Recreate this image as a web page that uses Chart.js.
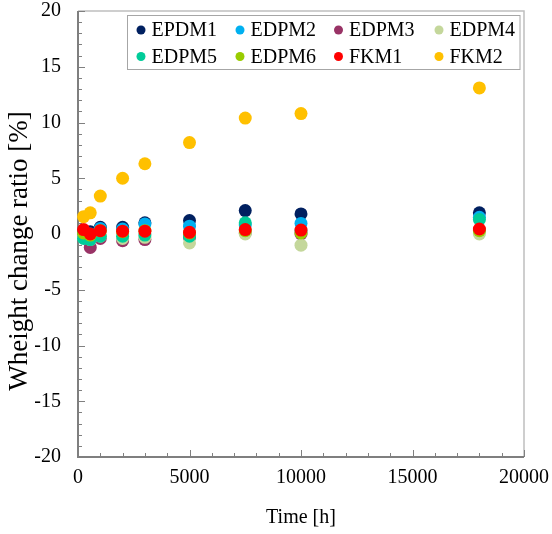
<!DOCTYPE html>
<html>
<head>
<meta charset="utf-8">
<script src="https://cdn.jsdelivr.net/npm/chart.js@4/dist/chart.umd.min.js"></script>
<style>
html,body{margin:0;padding:0;background:#fff;}
canvas{display:block;}
</style>
</head>
<body>
<canvas id="c" width="552" height="534"></canvas>
<script>
// ---- data ----
const times = [250, 550, 1000, 2000, 3000, 5000, 7500, 10000, 18000];
const seriesNames = ["EPDM1", "EDPM2", "EDPM3", "EDPM4", "EDPM5", "EDPM6", "FKM1", "FKM2"];
const epdm1 = [0.2, 0.2, 0.6, 0.6, 1.0, 1.2, 2.1, 1.8, 1.9];
const edpm2 = [0.1, 0.0, 0.5, 0.45, 0.9, 0.7, 0.8, 0.95, 1.5];
const edpm3 = [-0.2, -1.2, -0.4, -0.6, -0.5, -0.3, 0.1, 0.0, 0.3];
const edpm4 = [-0.3, -0.5, -0.2, -0.4, -0.3, -0.8, 0.0, -1.0, 0.0];
const edpm5 = [-0.4, -0.5, -0.2, -0.2, -0.1, -0.2, 1.0, 0.3, 1.3];
const edpm6 = [0.1, -0.1, 0.3, 0.2, 0.3, 0.1, 0.3, 0.1, 0.3];
const fkm1 = [0.4, 0.0, 0.3, 0.25, 0.25, 0.15, 0.4, 0.35, 0.45];
const fkm2 = [1.55, 1.9, 3.4, 5.0, 6.3, 8.2, 10.4, 10.8, 13.1];
const seriesValues = [epdm1, edpm2, edpm3, edpm4, edpm5, edpm6, fkm1, fkm2];
const seriesColors = ["#002060", "#00B0F0", "#993366", "#C4D79B", "#00CC99", "#99CC00", "#FF0000", "#FFC000"];
const xTickValues = [0, 5000, 10000, 15000, 20000];
const yTickValues = [-20, -15, -10, -5, 0, 5, 10, 15, 20];
const xTitle = "Time [h]";
const yTitle = "Wheight change ratio [%]";

const FONT = "'Liberation Serif', 'Times New Roman', serif";

const datasets = seriesNames.map((name, i) => ({
  label: name,
  data: times.map((t, k) => ({x: t, y: seriesValues[i][k]})),
  backgroundColor: seriesColors[i],
  borderWidth: 0,
  pointRadius: 6.5,
  pointHoverRadius: 6.5,
  order: seriesNames.length - i,
  clip: false
}));

const decor = {
  id: 'decor',
  beforeDatasetsDraw(chart) {
    const {ctx, chartArea: a, scales: {x, y}} = chart;
    ctx.save();
    // top & right border
    ctx.strokeStyle = '#bfbfbf';
    ctx.lineWidth = 1.5;
    ctx.beginPath();
    ctx.moveTo(a.left, a.top); ctx.lineTo(a.right, a.top); ctx.lineTo(a.right, a.bottom);
    ctx.stroke();
    // inward ticks
    ctx.strokeStyle = '#808080';
    ctx.lineWidth = 1;
    ctx.beginPath();
    for (let v = y.min; v <= y.max; v += 1) {
      const len = (v % 5 === 0) ? 7 : 4;
      const py = Math.round(y.getPixelForValue(v)) + 0.5;
      ctx.moveTo(a.left, py); ctx.lineTo(a.left + len, py);
    }
    for (let v = x.min; v <= x.max; v += 1000) {
      const len = (v % 5000 === 0) ? 7 : 4;
      const px = Math.round(x.getPixelForValue(v)) + 0.5;
      ctx.moveTo(px, a.bottom); ctx.lineTo(px, a.bottom - len);
    }
    ctx.stroke();
    // left & bottom axes
    ctx.strokeStyle = '#7f7f7f';
    ctx.lineWidth = 2;
    ctx.beginPath();
    ctx.moveTo(a.left, a.top); ctx.lineTo(a.left, a.bottom); ctx.lineTo(a.right, a.bottom);
    ctx.stroke();
    ctx.restore();
  },
  afterDraw(chart) {
    const {ctx} = chart;
    ctx.save();
    // y title
    ctx.fillStyle = '#000';
    ctx.font = "27px " + FONT;
    ctx.textAlign = 'center';
    ctx.textBaseline = 'middle';
    ctx.translate(20, 251);
    ctx.rotate(-Math.PI / 2);
    ctx.fillText(yTitle, 0, 0);
    ctx.restore();

    // legend
    ctx.save();
    ctx.fillStyle = '#fff';
    ctx.fillRect(127.5, 15.5, 392.5, 54);
    ctx.strokeStyle = '#a6a6a6';
    ctx.lineWidth = 1;
    ctx.strokeRect(127.5, 15.5, 392.5, 54);
    const colX = [141, 240, 338.5, 439];
    const rowY = [30, 56.5];
    ctx.font = "20px " + FONT;
    ctx.textAlign = 'left';
    ctx.textBaseline = 'middle';
    chart.data.datasets.forEach((ds, i) => {
      const cx = colX[i % 4], cy = rowY[Math.floor(i / 4)];
      ctx.fillStyle = ds.backgroundColor;
      ctx.beginPath();
      ctx.arc(cx, cy, 4.5, 0, Math.PI * 2);
      ctx.fill();
      ctx.fillStyle = '#000';
      ctx.fillText(ds.label, cx + 10.5, cy + 1);
    });
    ctx.restore();
  }
};

new Chart(document.getElementById('c'), {
  type: 'scatter',
  data: {datasets},
  plugins: [decor],
  options: {
    responsive: false,
    animation: false,
    devicePixelRatio: 1,
    layout: {padding: {top: 11, right: 28, left: 0, bottom: 0}},
    plugins: {legend: {display: false}, tooltip: {enabled: false}},
    scales: {
      x: {
        type: 'linear', min: 0, max: 20000,
        afterBuildTicks: s => { s.ticks = xTickValues.map(v => ({value: v})); },
        ticks: {color: '#000', font: {family: FONT, size: 20}, padding: 9, maxRotation: 0, autoSkip: false,
                callback: v => String(v)},
        grid: {display: false, drawTicks: false},
        border: {display: false},
        title: {display: true, text: xTitle, color: '#000', font: {family: FONT, size: 20}, padding: {top: 0, bottom: 4}},
        afterFit: s => { s.height = 77; s.paddingLeft = 0; s.paddingRight = 0; }
      },
      y: {
        type: 'linear', min: -20, max: 20,
        afterBuildTicks: s => { s.ticks = yTickValues.map(v => ({value: v})); },
        ticks: {color: '#000', font: {family: FONT, size: 20, lineHeight: 1}, padding: 17, autoSkip: false,
                callback: v => String(v)},
        grid: {display: false, drawTicks: false},
        border: {display: false},
        title: {display: false},
        afterFit: s => { s.width = 78; s.paddingTop = 0; s.paddingBottom = 0; }
      }
    }
  }
});
</script>
</body>
</html>
